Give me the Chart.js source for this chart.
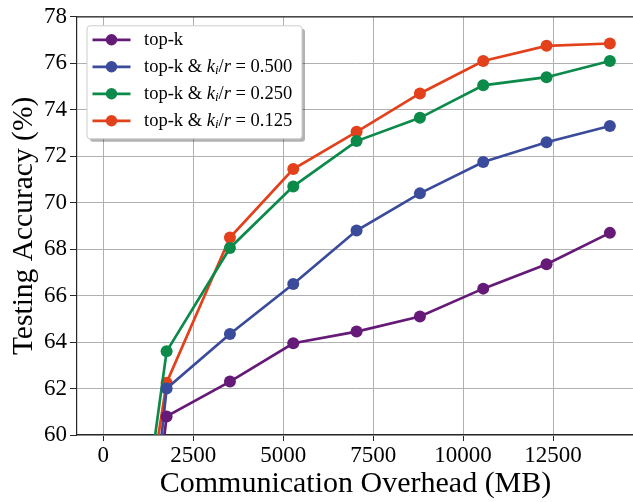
<!DOCTYPE html>
<html>
<head>
<meta charset="utf-8">
<script src="https://cdn.jsdelivr.net/npm/chart.js@4.4.1/dist/chart.umd.min.js"></script>
<style>
  html, body { margin: 0; padding: 0; background: #fff; overflow: hidden; }
  #wrap { width: 640px; height: 502px; position: relative; }
</style>
</head>
<body>
<div id="wrap"><canvas id="accChart"></canvas></div>
<script>
// 通信量 (MB)
const overheadMB = [0, 1760, 3520, 5280, 7040, 8800, 10560, 12320, 14080];
// テスト精度 (%)
const accTopK = [37.5, 60.8, 62.3, 63.95, 64.45, 65.1, 66.3, 67.35, 68.7];
const accR500 = [36.5, 62.0, 64.35, 66.5, 68.8, 70.4, 71.75, 72.6, 73.3];
const accR250 = [43.7, 63.6, 68.05, 70.7, 72.65, 73.65, 75.05, 75.4, 76.1];
const accR125 = [44.8, 62.25, 68.5, 71.45, 73.05, 74.7, 76.1, 76.75, 76.85];

const seriesNames = ['top-k', 'top-k & k_i/r = 0.500', 'top-k & k_i/r = 0.250', 'top-k & k_i/r = 0.125'];
const seriesRatios = [null, '0.500', '0.250', '0.125'];
const seriesColors = ['#661a78', '#3b4b9b', '#0b8a4a', '#e2411b'];

const xTicks = [0, 2500, 5000, 7500, 10000, 12500];
const yTicks = [60, 62, 64, 66, 68, 70, 72, 74, 76, 78];

const SERIF = '"Liberation Serif", "Times New Roman", serif';

function makeSeries(values, i) {
    return {
        label: seriesNames[i],
        data: overheadMB.map((x, j) => ({ x: x, y: values[j] })),
        borderColor: seriesColors[i],
        backgroundColor: seriesColors[i],
        pointBackgroundColor: seriesColors[i],
        pointBorderWidth: 0,
        pointRadius: 6,
        pointHoverRadius: 6,
        borderWidth: 2.7,
        tension: 0
    };
}

// 上の枠線
const topSpine = {
    id: 'topSpine',
    afterDraw(chart) {
        const { ctx, chartArea } = chart;
        ctx.save();
        ctx.strokeStyle = '#262626';
        ctx.lineWidth = 1.2;
        ctx.beginPath();
        ctx.moveTo(chartArea.left, chartArea.top);
        ctx.lineTo(chartArea.right, chartArea.top);
        ctx.stroke();
        ctx.restore();
    }
};

function roundRect(ctx, x, y, w, h, r) {
    ctx.beginPath();
    ctx.moveTo(x + r, y);
    ctx.lineTo(x + w - r, y);
    ctx.quadraticCurveTo(x + w, y, x + w, y + r);
    ctx.lineTo(x + w, y + h - r);
    ctx.quadraticCurveTo(x + w, y + h, x + w - r, y + h);
    ctx.lineTo(x + r, y + h);
    ctx.quadraticCurveTo(x, y + h, x, y + h - r);
    ctx.lineTo(x, y + r);
    ctx.quadraticCurveTo(x, y, x + r, y);
    ctx.closePath();
}

// 凡例 (k_i/r をイタリックで描く)
const mathLegend = {
    id: 'mathLegend',
    afterDraw(chart) {
        const { ctx, chartArea } = chart;
        const bx = chartArea.left + 10, by = chartArea.top + 9, bw = 215, bh = 113;
        ctx.save();
        ctx.fillStyle = 'rgba(0,0,0,0.3)';
        roundRect(ctx, bx + 3, by + 3, bw, bh, 3);
        ctx.fill();
        ctx.fillStyle = '#ffffff';
        roundRect(ctx, bx, by, bw, bh, 3);
        ctx.fill();
        ctx.strokeStyle = '#cccccc';
        ctx.lineWidth = 1;
        ctx.stroke();

        chart.data.datasets.forEach((ds, i) => {
            const ry = by + 14 + i * 27;
            ctx.strokeStyle = ds.borderColor;
            ctx.lineWidth = 2.7;
            ctx.beginPath();
            ctx.moveTo(bx + 5.5, ry);
            ctx.lineTo(bx + 43.5, ry);
            ctx.stroke();
            ctx.fillStyle = ds.borderColor;
            ctx.beginPath();
            ctx.arc(bx + 24.5, ry, 5.7, 0, Math.PI * 2);
            ctx.fill();

            ctx.fillStyle = '#000';
            ctx.textBaseline = 'middle';
            let tx = bx + 57;
            const parts = [['top-k', 'normal']];
            if (seriesRatios[i]) {
                parts.push([' & ', 'normal']);
                parts.push(['k', 'italic']);
                parts.push(['i', 'sub']);
                parts.push(['/', 'normal']);
                parts.push(['r', 'italic']);
                parts.push([' = ', 'normal']);
                parts.push([seriesRatios[i], 'normal']);
            }
            parts.forEach(p => {
                let size = 18.5, style = '', dy = 0;
                if (p[1] === 'italic') style = 'italic ';
                if (p[1] === 'sub') { style = 'italic '; size = 13; dy = 4; }
                ctx.font = style + size + 'px ' + SERIF;
                ctx.fillText(p[0], tx, ry + dy);
                tx += ctx.measureText(p[0]).width;
            });
        });
        ctx.restore();
    }
};

const ctx = document.getElementById('accChart').getContext('2d');
new Chart(ctx, {
    type: 'line',
    data: {
        datasets: [
            makeSeries(accTopK, 0),
            makeSeries(accR500, 1),
            makeSeries(accR250, 2),
            makeSeries(accR125, 3)
        ]
    },
    options: {
        responsive: true,
        maintainAspectRatio: false,
        animation: false,
        layout: { padding: { top: 16, right: 0, bottom: 0, left: 0 } },
        plugins: {
            legend: { display: false },
            tooltip: { enabled: false }
        },
        scales: {
            x: {
                type: 'linear',
                min: -731,
                max: 14751,
                afterBuildTicks: scale => { scale.ticks = xTicks.map(v => ({ value: v })); },
                afterFit: scale => {
                    scale.height = 67;
                    scale.paddingLeft = 0;
                    scale.paddingRight = 0;
                },
                grid: { color: '#b0b0b0', lineWidth: 1, tickColor: '#262626', tickLength: 6 },
                border: { color: '#262626', width: 1.2 },
                ticks: {
                    font: { family: SERIF, size: 23 },
                    color: '#000',
                    padding: 1,
                    maxRotation: 0,
                    autoSkip: false,
                    callback: v => String(v)
                },
                title: {
                    display: true,
                    text: 'Communication Overhead (MB)',
                    font: { family: SERIF, size: 30 },
                    color: '#000',
                    padding: { top: 0, bottom: 0 }
                }
            },
            y: {
                min: 60,
                max: 78,
                afterBuildTicks: scale => { scale.ticks = yTicks.map(v => ({ value: v })); },
                afterFit: scale => { scale.width = 77; },
                grid: { color: '#b0b0b0', lineWidth: 1, tickColor: '#262626', tickLength: 7 },
                border: { color: '#262626', width: 1.2 },
                ticks: {
                    font: { family: SERIF, size: 23 },
                    color: '#000',
                    padding: 3,
                    callback: v => String(v)
                },
                title: {
                    display: true,
                    text: 'Testing Accuracy (%)',
                    font: { family: SERIF, size: 29.5 },
                    color: '#000',
                    padding: { top: 7, bottom: 0 }
                }
            }
        }
    },
    plugins: [topSpine, mathLegend]
});
</script>
</body>
</html>
